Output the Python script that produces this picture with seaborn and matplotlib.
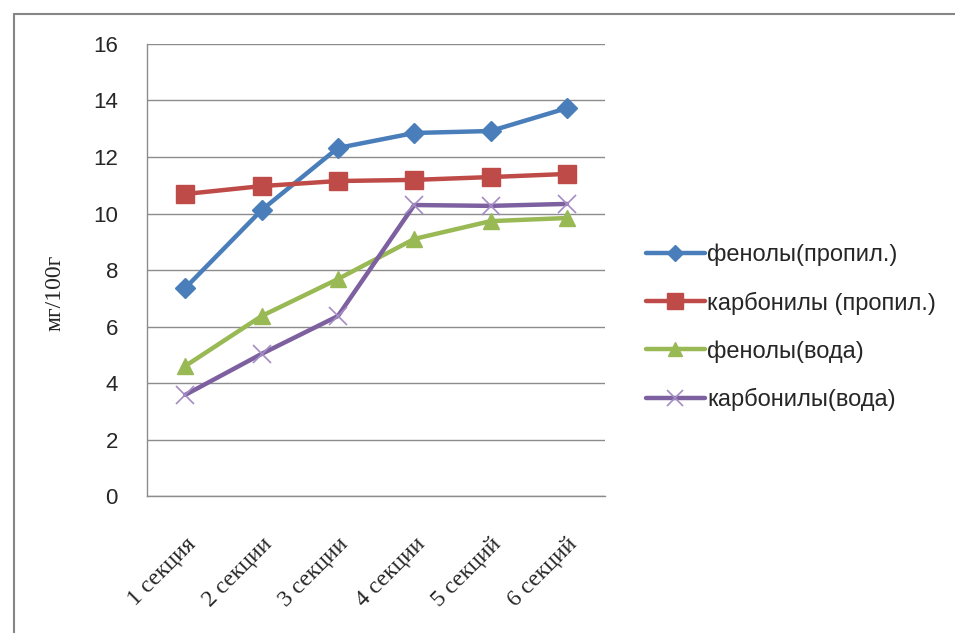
import pandas as pd
import seaborn as sns
import matplotlib.pyplot as plt
from matplotlib.patches import Rectangle

# data
sections = ['1 секция', '2 секции', '3 секции', '4 секции', '5 секций', '6 секций']
phenols_prop = [7.36, 10.12, 12.32, 12.85, 12.92, 13.73]
carbonyls_prop = [10.69, 10.97, 11.15, 11.19, 11.29, 11.40]
phenols_water = [4.60, 6.37, 7.68, 9.10, 9.73, 9.84]
carbonyls_water = [3.58, 5.03, 6.37, 10.30, 10.27, 10.34]

names = ['фенолы(пропил.)', 'карбонилы (пропил.)', 'фенолы(вода)', 'карбонилы(вода)']
series = [phenols_prop, carbonyls_prop, phenols_water, carbonyls_water]
colors = ['#4A7EBB', '#BE4B48', '#98B954', '#7D60A0']
markers = ['D', 's', '^', 'x']
msizes = [10, 13, 12, 13]

df = pd.DataFrame({
    'section': sections * 4,
    'value': [v for s in series for v in s],
    'series': [n for n in names for _ in sections],
})

sns.set_style('white')
plt.rcParams['font.family'] = ['Liberation Sans', 'DejaVu Sans']

fig = plt.figure(figsize=(9.55, 6.33), dpi=100)
ax = fig.add_axes([0.154, 0.2164, 0.4796, 0.7141])

for name, c, m, ms in zip(names, colors, markers, msizes):
    sub = df[df['series'] == name]
    sns.lineplot(data=sub, x='section', y='value', ax=ax, color=c, lw=3.2,
                 marker=m, markersize=ms, markeredgecolor=c if m != 'x' else '#A48CC4',
                 markeredgewidth=1 if m != 'x' else 1.2, label=name, sort=False)

ax.set_xlim(-0.5, 5.5)
ax.set_ylim(0, 16)
ax.set_yticks(range(0, 17, 2))
ax.yaxis.grid(True, color='#8C8C8C', lw=1)
ax.set_axisbelow(True)
for s in ['top', 'right']:
    ax.spines[s].set_visible(False)
for s in ['left', 'bottom']:
    ax.spines[s].set_color('#8C8C8C')
    ax.spines[s].set_linewidth(1)
ax.tick_params(axis='y', labelsize=16, length=0, pad=21)
ax.tick_params(axis='x', length=0, pad=27)
ax.set_xticks(range(len(sections)))
ax.set_xticklabels(sections, rotation=45, ha='right', rotation_mode='anchor',
                   fontsize=17, family='Liberation Serif')
ax.set_xlabel('')
ax.set_ylabel('мг/100г', fontsize=17, family='Liberation Serif')
ax.yaxis.set_label_coords(-0.178, 0.45)

ax.get_legend().remove()
handles, labels = ax.get_legend_handles_labels()
fig.legend(handles, labels, loc='center left', bbox_to_anchor=(0.654, 0.483),
           frameon=False, fontsize=17, handlelength=2.5, handletextpad=0.1,
           labelspacing=1.08, markerscale=0.85)

# outer chart frame
fig.patches.append(Rectangle((14 / 955, -0.1), 1.2, 1 - 14 / 633 + 0.1,
                             transform=fig.transFigure, fill=False,
                             edgecolor='#868686', lw=1.5))

fig.savefig('out.png', dpi=100)
